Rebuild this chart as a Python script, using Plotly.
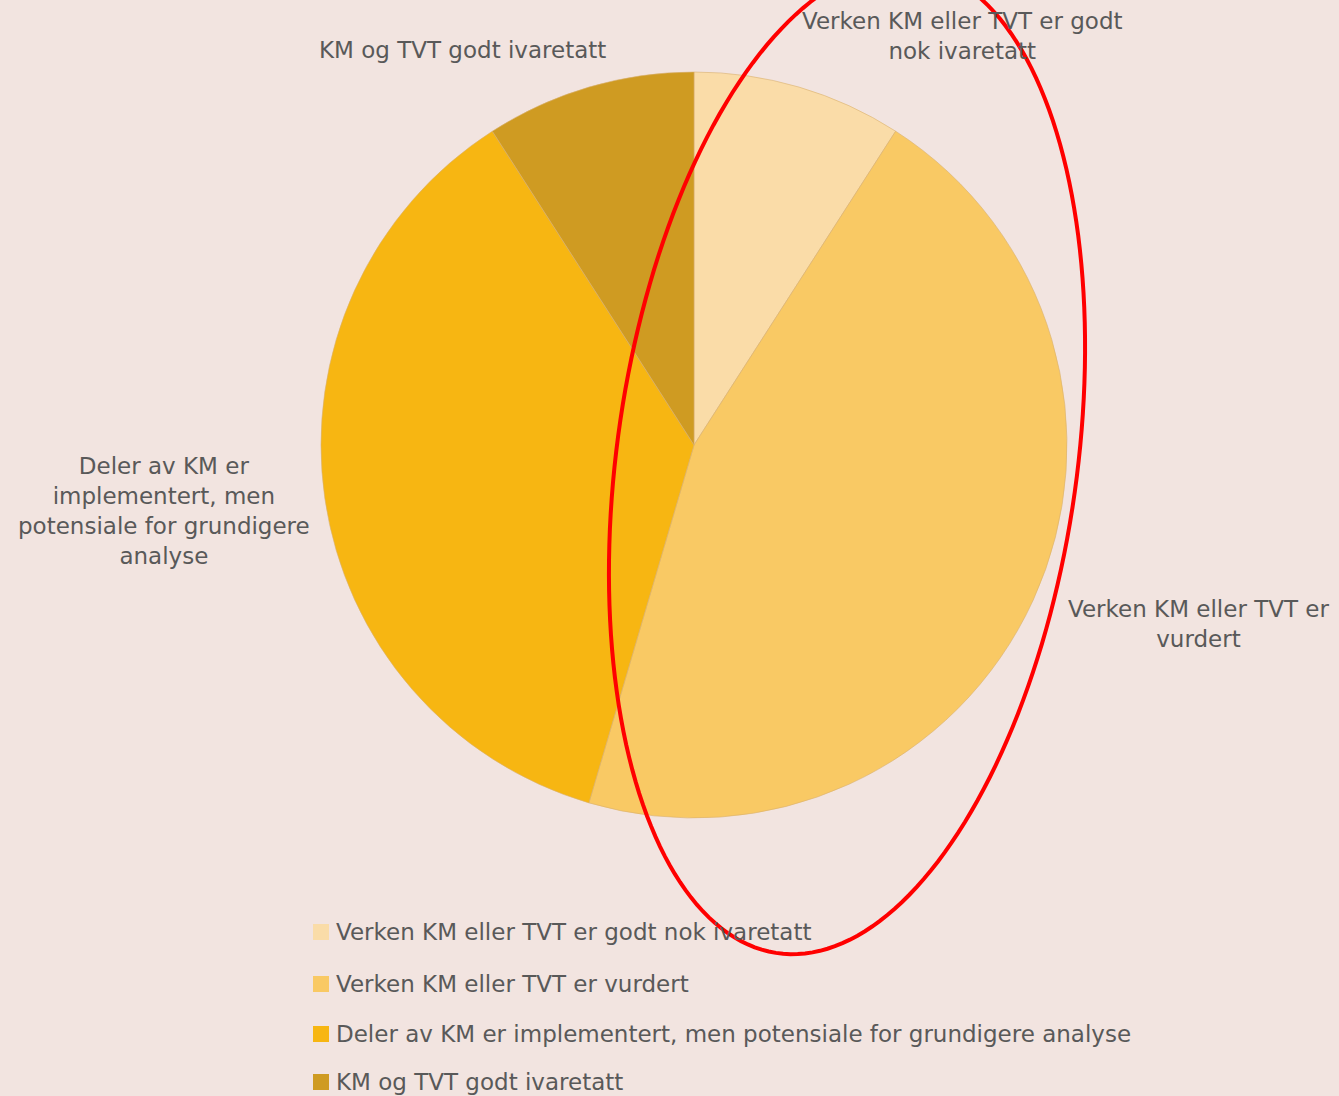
import numpy as np
import plotly.graph_objects as go

# ---- data ----
categories = [
    "Verken KM eller TVT er godt nok ivaretatt",
    "Verken KM eller TVT er vurdert",
    "Deler av KM er implementert, men potensiale for grundigere analyse",
    "KM og TVT godt ivaretatt",
]
values = [1, 5, 4, 1]
slice_labels = [
    "Verken KM eller TVT er godt<br>nok ivaretatt",
    "Verken KM eller TVT er<br>vurdert",
    "Deler av KM er<br>implementert, men<br>potensiale for grundigere<br>analyse",
    "KM og TVT godt ivaretatt",
]
colors = ["#FADCA8", "#F9C964", "#F7B612", "#CF9B22"]

W, H = 1339, 1096
BG = "#F2E4E0"
TXT = "#595959"
FONT = "DejaVu Sans"


def px(x, y):
    return x / W, 1 - y / H


fig = go.Figure()
fig.add_trace(go.Pie(
    labels=categories,
    values=values,
    sort=False,
    direction="clockwise",
    rotation=0,
    textinfo="none",
    hoverinfo="label+value+percent",
    marker=dict(colors=colors, line=dict(color="#D8B070", width=0.6)),
    domain=dict(x=[321 / W, 1067 / W], y=[1 - 818 / H, 1 - 72 / H]),
    showlegend=False,
))

annotations = []
label_pos = [(962, 36), (1198, 624), (164, 511), (462, 50)]
for txt, (x, y) in zip(slice_labels, label_pos):
    xx, yy = px(x, y)
    annotations.append(dict(
        x=xx, y=yy, xref="paper", yref="paper", text=txt, showarrow=False,
        xanchor="center", yanchor="middle", align="center",
        font=dict(family=FONT, size=23, color=TXT),
    ))

shapes = []
legend_y = [932, 984, 1034, 1082]
for cat, col, y in zip(categories, colors, legend_y):
    x0, y0 = px(313, y - 8)
    x1, y1 = px(329, y + 8)
    shapes.append(dict(type="rect", xref="paper", yref="paper",
                       x0=x0, x1=x1, y0=y1, y1=y0,
                       fillcolor=col, line=dict(width=0)))
    tx, ty = px(334, y)
    annotations.append(dict(
        x=tx, y=ty, xref="paper", yref="paper", text=cat, showarrow=False,
        xanchor="left", yanchor="middle", align="left",
        font=dict(family=FONT, size=23, color=TXT),
    ))

# red highlight ellipse (annotation drawn on top of the chart)
cx, cy, a, b, tilt = 847, 460, 498, 230, np.deg2rad(8)
t = np.linspace(0, 2 * np.pi, 200)
ex = cx + b * np.cos(t) * np.cos(tilt) + a * np.sin(t) * np.sin(tilt)
ey = cy - a * np.sin(t) * np.cos(tilt) + b * np.cos(t) * np.sin(tilt)
path = "M " + " L ".join(f"{px(x, y)[0]:.5f},{px(x, y)[1]:.5f}" for x, y in zip(ex, ey)) + " Z"
shapes.append(dict(type="path", path=path, xref="paper", yref="paper",
                   line=dict(color="#FF0000", width=4), layer="above"))

fig.update_layout(
    width=W, height=H,
    margin=dict(l=0, r=0, t=0, b=0),
    paper_bgcolor=BG, plot_bgcolor=BG,
    annotations=annotations, shapes=shapes,
    showlegend=False,
)
fig.write_html(
    "out.html",
    config={"displayModeBar": False},
    post_script="document.body.style.margin='0';document.body.style.overflow='hidden';",
)
